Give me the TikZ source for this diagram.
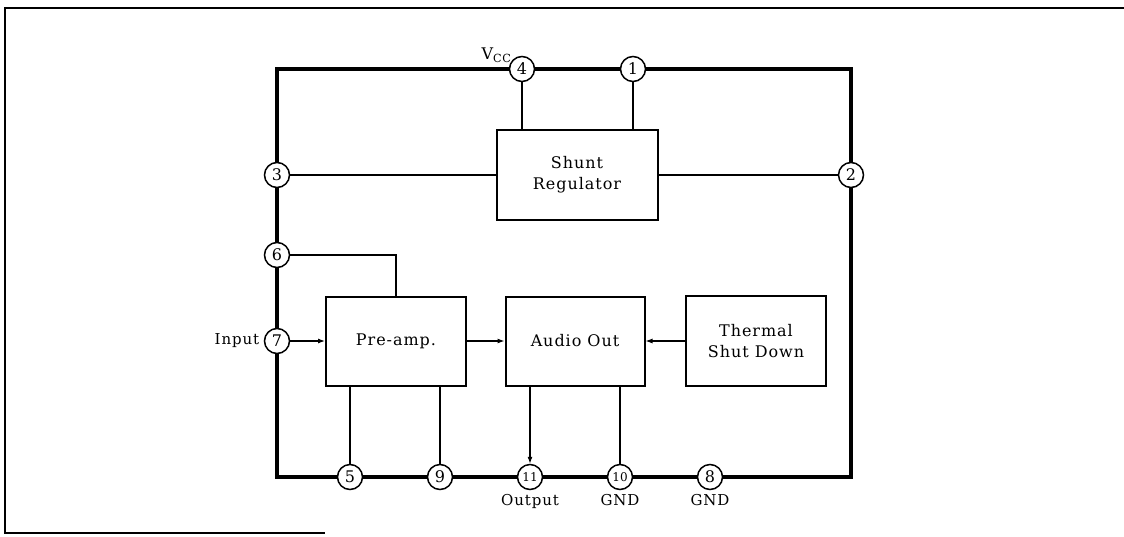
\documentclass[tikz,border=0pt]{standalone}
\usepackage{fontspec}
\setmainfont{DejaVu Serif}[LetterSpace=6]
\usepackage{tikz}
\usetikzlibrary{arrows.meta, positioning}

\begin{document}
\begin{tikzpicture}[
  x=1pt, y=-1pt,
  block/.style={rectangle, draw, line width=2pt, minimum width=140pt, minimum height=89pt, align=center, font=\fontsize{16}{21}\selectfont},
  pin/.style={circle, draw, fill=white, line width=1.5pt, minimum size=25pt, inner sep=0pt, font=\fontsize{16}{16}\selectfont},
  smallpin/.style={pin, font=\fontsize{12}{12}\selectfont\addfontfeature{LetterSpace=0}},
  wire/.style={line width=1.1pt},
  arrow/.style={wire, -{Latex[length=7pt, width=5pt]}},
  lbl/.style={font=\fontsize{15}{18}\selectfont}
]
  \useasboundingbox (0,0) rectangle (1124,536);

  % page frame and chip outline
  \draw[line width=1.4pt] (1124,8) -- (5,8) -- (5,533) -- (325,533);
  \draw[line width=3.2pt] (277,69) rectangle (851,477);

  % blocks
  \node[block, minimum width=161pt, minimum height=90pt] (shunt) at (577,175) {Shunt\\Regulator};
  \node[block] (pre) at (396,341) {Pre-amp.};
  \node[block, minimum width=139pt] (aout) at (575,341) {Audio Out};
  \node[block, minimum height=90pt] (therm) at (756,341) {Thermal\\Shut Down};

  % pins
  \node[pin] (p4) at (522,69) {4};
  \node[pin] (p1) at (633,69) {1};
  \node[pin] (p3) at (277,175) {3};
  \node[pin] (p2) at (851,175) {2};
  \node[pin] (p6) at (277,255) {6};
  \node[pin] (p7) at (277,341) {7};
  \node[pin] (p5) at (350,477) {5};
  \node[pin] (p9) at (440,477) {9};
  \node[smallpin] (p11) at (530,477) {11};
  \node[smallpin] (p10) at (620,477) {10};
  \node[pin] (p8) at (710,477) {8};

  % pin labels
  \node[lbl, font=\fontsize{16}{18}\selectfont, anchor=south east, inner sep=0pt] (vcc) at ([xshift=-1pt, yshift=-3pt]p4.north west) {V\textsubscript{CC}};
  \node[lbl, left=1pt of p7] (input) {Input};
  \node[lbl, below=1pt of p11] (output) {Output};
  \node[lbl, below=1pt of p10] (gnd1) {GND};
  \node[lbl, below=1pt of p8] (gnd2) {GND};

  % connections
  \draw[wire] (p4) -- (p4 |- shunt.north);
  \draw[wire] (p1) -- (p1 |- shunt.north);
  \draw[wire] (p3) -- (shunt.west);
  \draw[wire] (shunt.east) -- (p2);
  \draw[wire] (p6) -| (pre.north);
  \draw[arrow] (p7) -- (pre.west);
  \draw[arrow] (pre.east) -- (aout.west);
  \draw[arrow] (therm.west) -- (aout.east);
  \draw[wire] (p5 |- pre.south) -- (p5);
  \draw[wire] (p9 |- pre.south) -- (p9);
  \draw[arrow] (p11 |- aout.south) -- (p11);
  \draw[wire] (p10 |- aout.south) -- (p10);
\end{tikzpicture}
\end{document}
